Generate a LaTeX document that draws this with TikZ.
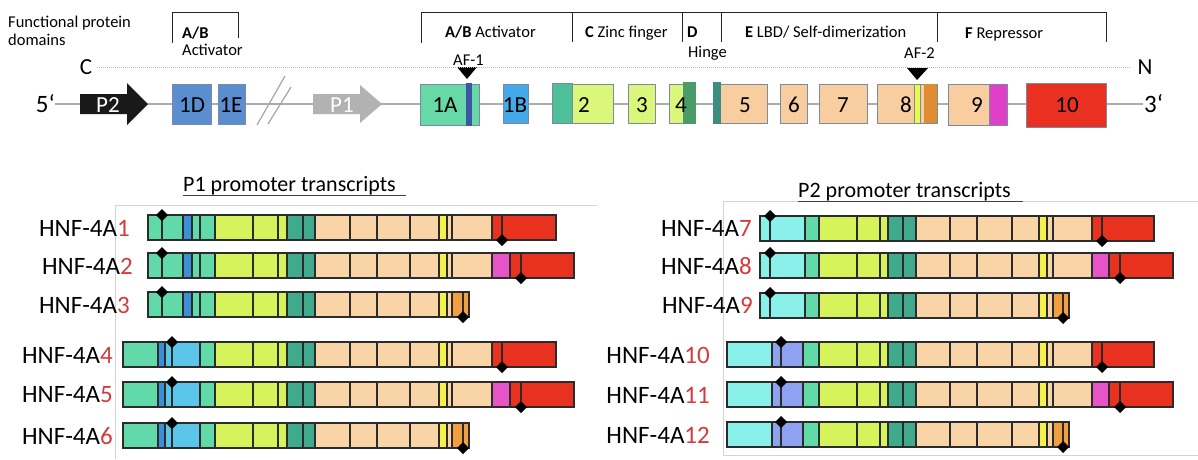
\documentclass[tikz,border=0pt]{standalone}
\usepackage{fontspec}
\setmainfont{Carlito}
\definecolor{exline}{HTML}{7A8AA0}
\definecolor{segline}{HTML}{2B2B2B}
\definecolor{mint}{HTML}{62D9A9}
\definecolor{bluest}{HTML}{3C8FD6}
\definecolor{sky}{HTML}{5CC5EA}
\definecolor{yg}{HTML}{D6F35C}
\definecolor{teal}{HTML}{3FAA8C}
\definecolor{peach}{HTML}{F8D4A6}
\definecolor{yel}{HTML}{F6F04A}
\definecolor{org}{HTML}{F0A040}
\definecolor{red}{HTML}{E8321F}
\definecolor{mag}{HTML}{E654C8}
\definecolor{cyan}{HTML}{8AF0EA}
\definecolor{peri}{HTML}{8FA2F2}
\definecolor{numred}{HTML}{D63A3A}
\definecolor{steel}{HTML}{5B8ED0}
\definecolor{tmint}{HTML}{66D9A6}
\definecolor{tstripe}{HTML}{3F56A8}
\definecolor{tblue}{HTML}{45A8E8}
\definecolor{tteal}{HTML}{4DBF99}
\definecolor{tyg}{HTML}{DAF77B}
\definecolor{tdark}{HTML}{4A9A6A}
\definecolor{t5}{HTML}{3D8C80}
\definecolor{tpeach}{HTML}{F8CDA0}
\definecolor{torg}{HTML}{E08C30}
\definecolor{tmag}{HTML}{E040C8}
\definecolor{tred}{HTML}{EA3020}
\definecolor{panel}{HTML}{D4D4D4}
\newcommand\trow[2]{\edef\trowlist{#2}\foreach \a/\b/\c in \trowlist {\filldraw[seg,fill=\c] (\a,#1) rectangle (\b,#1+25);}}
\newcommand\dmd[2]{\fill[black] (#1-6,#2) -- (#1,#2-6) -- (#1+6,#2) -- (#1,#2+6) -- cycle;}
\newcommand\lhA{148/162/mint,162/183/mint,183/192/bluest,192/200/mint,200/215/mint}
\newcommand\lhB{123/158/mint,158/165/bluest,165/172/sky,172/200/sky,200/215/mint}
\newcommand\ltail{215/253/yg,253/278/yg,278/287/yg,287/303/teal,303/315/teal,315/350/peach,350/377/peach,377/410/peach,410/439/peach,439/447/yel,447/452/peach}
\newcommand\lendA{452/492/peach,492/502/red,502/556/red}
\newcommand\lendB{452/492/peach,492/510/mag,510/521/red,521/574/red}
\newcommand\lendC{452/463/org,463/469/org}
\newcommand\rhA{760/770/cyan,770/805/cyan,805/819/mint}
\newcommand\rhB{727/772/cyan,772/781/peri,781/803/peri,803/819/mint}
\newcommand\rtail{819/857/yg,857/880/yg,880/888/yg,888/903/teal,903/916/teal,916/950/peach,950/977/peach,977/1012/peach,1012/1039/peach,1039/1047/yel,1047/1053/peach}
\newcommand\rendA{1053/1092/peach,1092/1102/red,1102/1154/red}
\newcommand\rendB{1053/1092/peach,1092/1109/mag,1109/1120/red,1120/1173/red}
\newcommand\rendC{1053/1063/org,1063/1069/org}
\begin{document}
\begin{tikzpicture}[x=1pt,y=-1pt,
  exon/.style={draw=exline,line width=0.8pt},
  seg/.style={draw=segline,line width=1.4pt},
  lab/.style={font=\fontsize{23}{26}\selectfont,inner sep=0pt},
  small/.style={font=\fontsize{16.5}{18}\selectfont,inner sep=0pt,anchor=base west},
  title/.style={font=\fontsize{22}{24}\selectfont,inner sep=0pt,anchor=base west},
  hnf/.style={font=\fontsize{25}{28}\selectfont,inner sep=0pt,anchor=east},
  brk/.style={draw=black!85,line width=1pt}]
\useasboundingbox (0,0) rectangle (1198,459);
% ---------- top: domain labels ----------
\node[small] (fp1) at (8,27) {Functional protein};
\node[small] (fp2) at (8,45) {domains};
\draw[brk] (172,43) -- (172,12) -- (238,12) -- (238,38);
\node[small] (ab1) at (182,38) {\textbf{A/B}};
\node[small] (ab2) at (182,55) {Activator};
\draw[brk] (421,43) -- (421,12) -- (1106,12) -- (1106,42);
\foreach \t in {572,682,721,937} \draw[brk] (\t,12) -- (\t,42);
\node[small] (dA) at (445,37) {\textbf{A/B} Activator};
\node[small] (dC) at (585,37) {\textbf{C} Zinc finger};
\node[small] (dD) at (687,37) {\textbf{D}};
\node[small] (dH) at (688,57) {Hinge};
\node[small] (dE) at (745,37) {\textbf{E} LBD/ Self-dimerization};
\node[small] (dF) at (965,38) {\textbf{F} Repressor};
\node[small] (af1) at (453,65) {AF-1};
\node[small] (af2) at (904,58) {AF-2};
\fill[black] (457,67) -- (477,67) -- (467,79) -- cycle;
\fill[black] (907,68) -- (928,68) -- (917,80) -- cycle;
% ---------- gene ----------
\draw[gray!55,line width=0.7pt,dash pattern=on 1pt off 1pt] (97,67) -- (1130,67);
\node[lab] (C) at (86,67) {C};
\node[lab] (N) at (1145,67) {N};
\draw[gray!65,line width=1.6pt] (55,104) -- (1143,104);
\node[lab,font=\fontsize{25}{28}\selectfont,anchor=base east] (five) at (55,112) {5\char"60};
\node[lab,font=\fontsize{25}{28}\selectfont,anchor=base west] (three) at (1144,112) {3\char"60};
\fill[black!90] (80,94) -- (127,94) -- (127,83) -- (148,104) -- (127,125) -- (127,114) -- (80,114) -- cycle;
\node[lab,white] (p2) at (108,105) {P2};
\draw[gray!70,line width=1.2pt] (257,125) -- (285,76);
\draw[gray!70,line width=1.2pt] (268,124) -- (291,87);
\fill[gray!60] (313,94) -- (360,94) -- (360,85) -- (382,104) -- (360,123) -- (360,114) -- (313,114) -- cycle;
\node[lab,white] (p1) at (342,105) {P1};
% exons
\filldraw[exon,fill=steel] (172,84) rectangle (211,124);
\node[lab] (e1d) at (192,105) {1D};
\filldraw[exon,fill=steel] (218,84) rectangle (245,124);
\node[lab] (e1e) at (231,105) {1E};
\filldraw[exon,fill=tmint] (420,84) rectangle (479,125);
\fill[tstripe] (466,83) rectangle (472,126);
\node[lab] (e1a) at (445,105) {1A};
\filldraw[exon,fill=tblue] (503,84) rectangle (528,123);
\node[lab] (e1b) at (515,105) {1B};
\filldraw[exon,fill=tteal] (552,83) rectangle (572,123);
\filldraw[exon,fill=tyg] (572,84) rectangle (613,123);
\node[lab] (e2) at (584,105) {2};
\filldraw[exon,fill=tyg] (628,84) rectangle (655,123);
\node[lab] (e3) at (642,105) {3};
\filldraw[exon,fill=tyg] (669,84) rectangle (683,123);
\fill[tdark] (683,82) rectangle (696,124);
\node[lab] (e4) at (681,105) {4};
\filldraw[exon,fill=tpeach] (713,84) rectangle (767,123);
\fill[t5] (713,82) rectangle (721,124);
\node[lab] (e5) at (745,105) {5};
\filldraw[exon,fill=tpeach] (780,84) rectangle (807,123);
\node[lab] (e6) at (794,105) {6};
\filldraw[exon,fill=tpeach] (819,84) rectangle (867,123);
\node[lab] (e7) at (843,105) {7};
\filldraw[exon,fill=tpeach] (877,84) rectangle (937,123);
\filldraw[exon,fill=tyg!60!yellow] (914,84) rectangle (920,123);
\fill[torg] (924,84.4) rectangle (936.6,122.6);
\node[lab] (e8) at (906,105) {8};
\filldraw[exon,fill=tpeach] (948,84) rectangle (989,125);
\filldraw[exon,fill=tmag] (989,84) rectangle (1007,125);
\node[lab] (e9) at (977,105) {9};
\filldraw[exon,fill=tred] (1026,83) rectangle (1106,127);
\node[lab] (e10) at (1067,105) {10};
% ---------- panels ----------
\draw[panel,line width=0.8pt] (597,205) -- (115,205) -- (115,459);
\draw[panel,line width=0.8pt] (1198,201) -- (723,201) -- (723,455) -- (1198,455);
\node[title] (t1) at (183,191) {P1 promoter transcripts};
\draw[black!75,line width=1pt] (183,195) -- (406,195);
\node[title] (t2) at (798,197) {P2 promoter transcripts};
\draw[black!75,line width=1pt] (798,201) -- (1023,201);
% ---------- P1 rows ----------
\trow{215}{\lhA,\ltail,\lendA} \dmd{162}{215} \dmd{502}{240}
\trow{253}{\lhA,\ltail,\lendB} \dmd{162}{253} \dmd{521}{278}
\trow{292}{\lhA,\ltail,\lendC} \dmd{162}{292} \dmd{463}{317}
\trow{342}{\lhB,\ltail,\lendA} \dmd{172}{342} \dmd{502}{367}
\trow{382}{\lhB,\ltail,\lendB} \dmd{172}{382} \dmd{521}{407}
\trow{423}{\lhB,\ltail,\lendC} \dmd{172}{423} \dmd{463}{448}
\node[hnf] (h1) at (130,228) {HNF-4A\textcolor{numred}{1}};
\node[hnf] (h2) at (133,266) {HNF-4A\textcolor{numred}{2}};
\node[hnf] (h3) at (130,305) {HNF-4A\textcolor{numred}{3}};
\node[hnf] (h4) at (113,355) {HNF-4A\textcolor{numred}{4}};
\node[hnf] (h5) at (113,395) {HNF-4A\textcolor{numred}{5}};
\node[hnf] (h6) at (113,436) {HNF-4A\textcolor{numred}{6}};
% ---------- P2 rows ----------
\trow{216}{\rhA,\rtail,\rendA} \dmd{770}{216} \dmd{1102}{241}
\trow{253}{\rhA,\rtail,\rendB} \dmd{770}{253} \dmd{1120}{278}
\trow{293}{\rhA,\rtail,\rendC} \dmd{770}{293} \dmd{1063}{318}
\trow{342}{\rhB,\rtail,\rendA} \dmd{781}{342} \dmd{1102}{367}
\trow{382}{\rhB,\rtail,\rendB} \dmd{781}{382} \dmd{1120}{407}
\trow{422}{\rhB,\rtail,\rendC} \dmd{781}{422} \dmd{1063}{447}
\node[hnf] (h7) at (752,228) {HNF-4A\textcolor{numred}{7}};
\node[hnf] (h8) at (752,266) {HNF-4A\textcolor{numred}{8}};
\node[hnf] (h9) at (753,305) {HNF-4A\textcolor{numred}{9}};
\node[hnf] (h10) at (710,355) {HNF-4A\textcolor{numred}{10}};
\node[hnf] (h11) at (710,395) {HNF-4A\textcolor{numred}{11}};
\node[hnf] (h12) at (710,435) {HNF-4A\textcolor{numred}{12}};
\end{tikzpicture}
\end{document}
